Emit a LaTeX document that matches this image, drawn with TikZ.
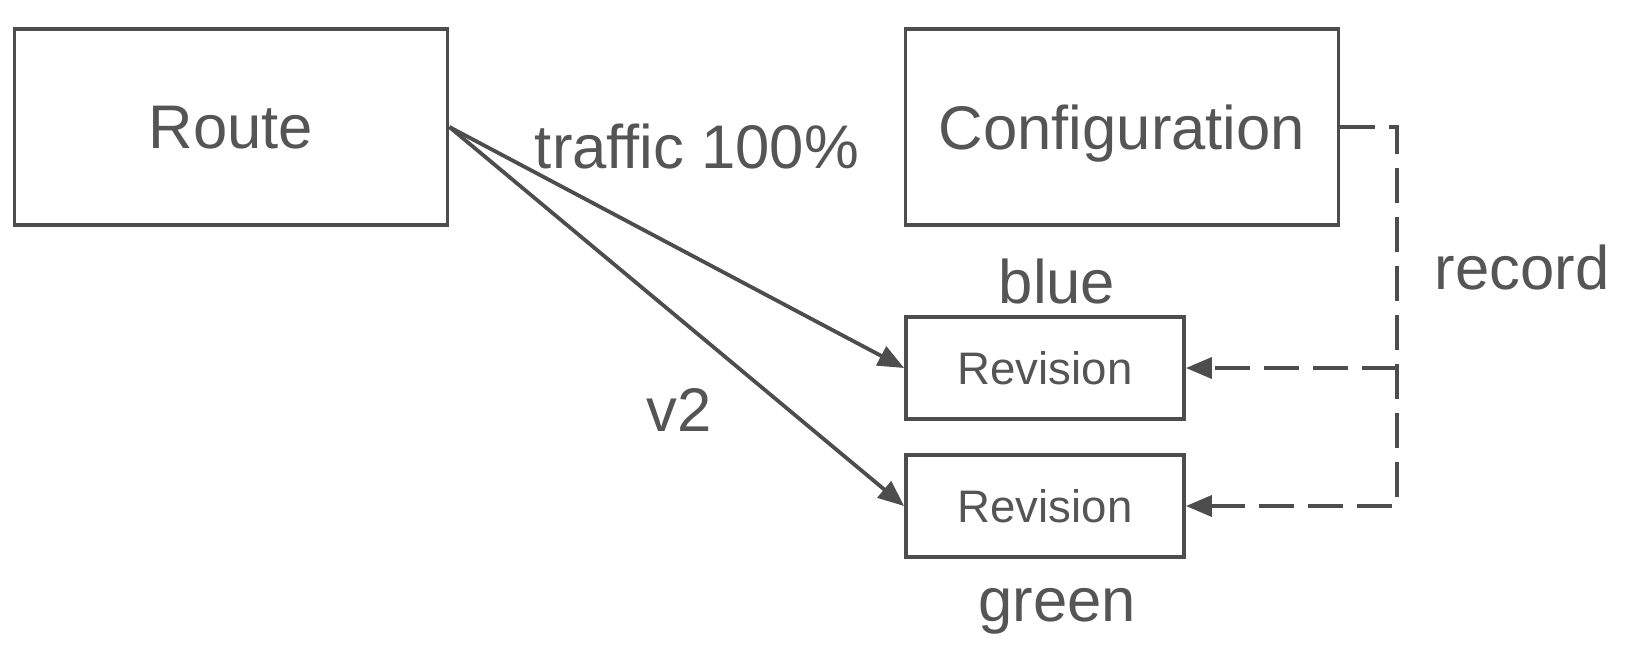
\documentclass[tikz,border=0pt]{standalone}
\usepackage{fontspec}
\setmainfont{Liberation Sans}
\usetikzlibrary{arrows.meta,positioning}
\definecolor{inkgray}{HTML}{555555}
\definecolor{linegray}{HTML}{4D4D4D}
\tikzset{
  box/.style={rectangle, draw=linegray, line width=1.9pt, text depth=0pt},
  flow/.style={draw=linegray, line width=1.9pt, -{Triangle[length=13pt,width=10.5pt]}},
  rec/.style={flow, dash pattern=on 17.5pt off 7pt}
}

\begin{document}
\begin{tikzpicture}[x=0.5pt, y=-0.5pt, every node/.style={text=inkgray, font=\fontsize{30.8}{36}\selectfont}]
            \useasboundingbox (0,0) rectangle (1636,650);
            \node[box,minimum width=216.5pt,minimum height=98pt] (route) at (231,127) {Route};
            \node[box,minimum width=216.5pt,minimum height=98pt] (config) at (1122,127) {Configuration};

            \node[box,minimum width=139pt,minimum height=51pt,font=\fontsize{22.8}{27}\selectfont,
                  label={[inner sep=0pt,label distance=5.5pt,xshift=6pt]above:blue}] (blue) at (1045,368) {Revision};
            \node[box,minimum width=139pt,minimum height=51pt,font=\fontsize{22.8}{27}\selectfont,
                  label={[inner sep=0pt,label distance=14.5pt,xshift=6pt]below:green}] (green) at (1045,506) {Revision};

            \node (traffic) at (697,146) {traffic 100\%};
            \node (v2) at (679,410) {v2};
            \node (record) at (1522,267) {record};

            \coordinate (turn) at (1397,127);

            \draw[flow] (route.east) -- (blue.west);
            \draw[flow] (route.east) -- (green.west);
            \draw[rec] (config.east) -- (turn) |- (green.east);
            \draw[rec] (turn |- blue.east) -- (blue.east);
          \end{tikzpicture}
\end{document}
